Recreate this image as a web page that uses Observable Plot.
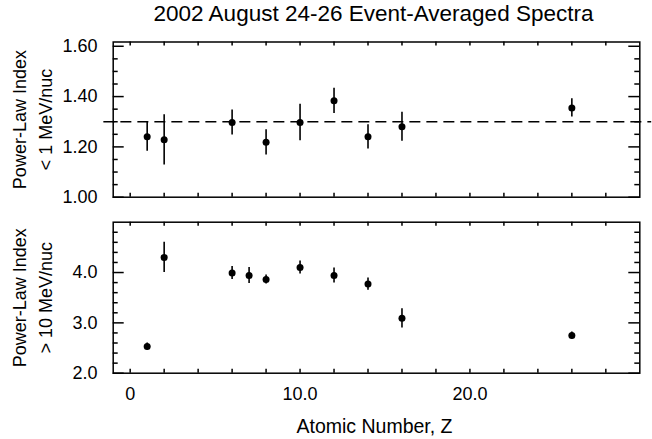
<!DOCTYPE html>
<html>
<head>
<meta charset="utf-8">
<script src="https://cdn.jsdelivr.net/npm/d3@7"></script>
<script src="https://cdn.jsdelivr.net/npm/@observablehq/plot@0.6"></script>
<style>
  html, body { margin: 0; padding: 0; background: #fff; }
  #chart { position: relative; width: 652px; height: 439px; overflow: hidden; background: #fff; }
  #chart > svg { position: absolute; left: 0; }
</style>
</head>
<body>
<div id="chart"></div>
<script>
// ---- data ----
const titleText = "2002 August 24-26 Event-Averaged Spectra";
const xLabel = "Atomic Number, Z";
const topYLabel = "Power-Law Index\n< 1 MeV/nuc";
const botYLabel = "Power-Law Index\n> 10 MeV/nuc";

const zLow = [1, 2, 6, 8, 10, 12, 14, 16, 26];
const lowIndex = [1.240, 1.228, 1.297, 1.218, 1.297, 1.383, 1.240, 1.280, 1.355];
const lowErr = [0.057, 0.100, 0.050, 0.050, 0.073, 0.050, 0.048, 0.058, 0.036];
const refLine = [1.30];

const zHigh = [1, 2, 6, 7, 8, 10, 12, 14, 16, 26];
const highIndex = [2.53, 4.30, 3.99, 3.94, 3.86, 4.10, 3.94, 3.77, 3.09, 2.75];
const highErr = [0.07, 0.30, 0.13, 0.16, 0.09, 0.13, 0.15, 0.12, 0.19, 0.07];

const xTicks = [0, 10, 20];
const xTickLabels = ["0", "10.0", "20.0"];
const xMinorTicks = [0, 2, 4, 6, 8, 10, 12, 14, 16, 18, 20, 22, 24, 26, 28];

const topYTicks = [1.0, 1.2, 1.4, 1.6];
const topYTickLabels = ["1.00", "1.20", "1.40", "1.60"];
const topYMinor = [1.05, 1.10, 1.15, 1.25, 1.30, 1.35, 1.45, 1.50, 1.55];

const botYTicks = [2, 3, 4];
const botYTickLabels = ["2.0", "3.0", "4.0"];
const botYMinor = [2.2, 2.4, 2.6, 2.8, 3.2, 3.4, 3.6, 3.8, 4.2, 4.4, 4.6, 4.8];

// ---- layout ----
const W = 652;
const mL = 112.7, mR = 12.7;
const frameW = W - mL - mR;
const font = "'Liberation Sans', Arial, Helvetica, sans-serif";
const xDomain = [-1, 30];

function frameTicks(yMajor, yMinor, frameH) {
  return [
    // left / right y ticks (inward)
    Plot.tickY(yMajor, {y: d => d, insetRight: frameW - 11, strokeWidth: 1.5}),
    Plot.tickY(yMinor, {y: d => d, insetRight: frameW - 5, strokeWidth: 1.5}),
    Plot.tickY(yMajor, {y: d => d, insetLeft: frameW - 11, strokeWidth: 1.5}),
    Plot.tickY(yMinor, {y: d => d, insetLeft: frameW - 5, strokeWidth: 1.5}),
    // top / bottom x ticks (inward)
    Plot.tickX(xMinorTicks, {x: d => d, insetBottom: frameH - 4, strokeWidth: 1.5}),
    Plot.tickX(xMinorTicks, {x: d => d, insetTop: frameH - 4, strokeWidth: 1.5})
  ];
}

function yLabelMarks(ticks, labels, ylabel) {
  return [
    Plot.text(ticks, {y: d => d, text: (d, i) => labels[i], frameAnchor: "left", dx: -15.7,
      textAnchor: "end", lineAnchor: "middle", fontSize: 18, fill: "black"}),
    Plot.text([ylabel], {text: d => d, frameAnchor: "left", dx: -82.5, rotate: -90,
      lineAnchor: "middle", textAnchor: "middle", lineHeight: 1.42, fontSize: 18, fill: "black"})
  ];
}

// ---- top panel ----
const topH = 210, topMT = 41.5, topMB = 13.3;
const topFrameH = topH - topMT - topMB;
const lowData = zLow.map((z, i) => ({z, v: lowIndex[i], e: lowErr[i]}));

const topPlot = Plot.plot({
  width: W, height: topH,
  marginLeft: mL, marginRight: mR, marginTop: topMT, marginBottom: topMB,
  style: {fontFamily: font, fontSize: "18px", background: "transparent", color: "black", overflow: "visible"},
  x: {domain: xDomain, axis: null},
  y: {domain: [1.0, 1.617], axis: null},
  marks: [
    Plot.ruleY(refLine, {y: d => d, x1: -1.55, x2: 30.7, stroke: "black", strokeWidth: 1.5, strokeDasharray: "11,6"}),
    ...frameTicks(topYTicks, topYMinor, topFrameH),
    Plot.frame({stroke: "black", strokeWidth: 1.5}),
    Plot.ruleX(lowData, {x: "z", y1: d => d.v - d.e, y2: d => d.v + d.e, stroke: "black", strokeWidth: 1.6}),
    Plot.dot(lowData, {x: "z", y: "v", r: 3.5, fill: "black", stroke: "none"}),
    ...yLabelMarks(topYTicks, topYTickLabels, topYLabel),
    Plot.text([titleText], {text: d => d, frameAnchor: "top", dy: -28.5, dx: -3, lineAnchor: "middle",
      fontSize: 22.5, fill: "black"})
  ]
});
topPlot.style.top = "0px";

// ---- bottom panel ----
const botH = 229, botMT = 11.7, botMB = 66.3;
const botFrameH = botH - botMT - botMB;
const highData = zHigh.map((z, i) => ({z, v: highIndex[i], e: highErr[i]}));

const botPlot = Plot.plot({
  width: W, height: botH,
  marginLeft: mL, marginRight: mR, marginTop: botMT, marginBottom: botMB,
  style: {fontFamily: font, fontSize: "18px", background: "transparent", color: "black", overflow: "visible"},
  x: {domain: xDomain, axis: null},
  y: {domain: [2, 5], axis: null},
  marks: [
    ...frameTicks(botYTicks, botYMinor, botFrameH),
    Plot.frame({stroke: "black", strokeWidth: 1.5}),
    Plot.ruleX(highData, {x: "z", y1: d => d.v - d.e, y2: d => d.v + d.e, stroke: "black", strokeWidth: 1.6}),
    Plot.dot(highData, {x: "z", y: "v", r: 3.5, fill: "black", stroke: "none"}),
    ...yLabelMarks(botYTicks, botYTickLabels, botYLabel),
    Plot.text(xTicks, {x: d => d, text: (d, i) => xTickLabels[i], frameAnchor: "bottom", dy: 21.5,
      lineAnchor: "middle", fontSize: 18, fill: "black"}),
    Plot.text([xLabel], {text: d => d, frameAnchor: "bottom", dy: 54, dx: -2, lineAnchor: "middle",
      fontSize: 19.5, fill: "black"})
  ]
});
botPlot.style.top = "210px";

const chart = document.getElementById("chart");
chart.appendChild(topPlot);
chart.appendChild(botPlot);
</script>
</body>
</html>
